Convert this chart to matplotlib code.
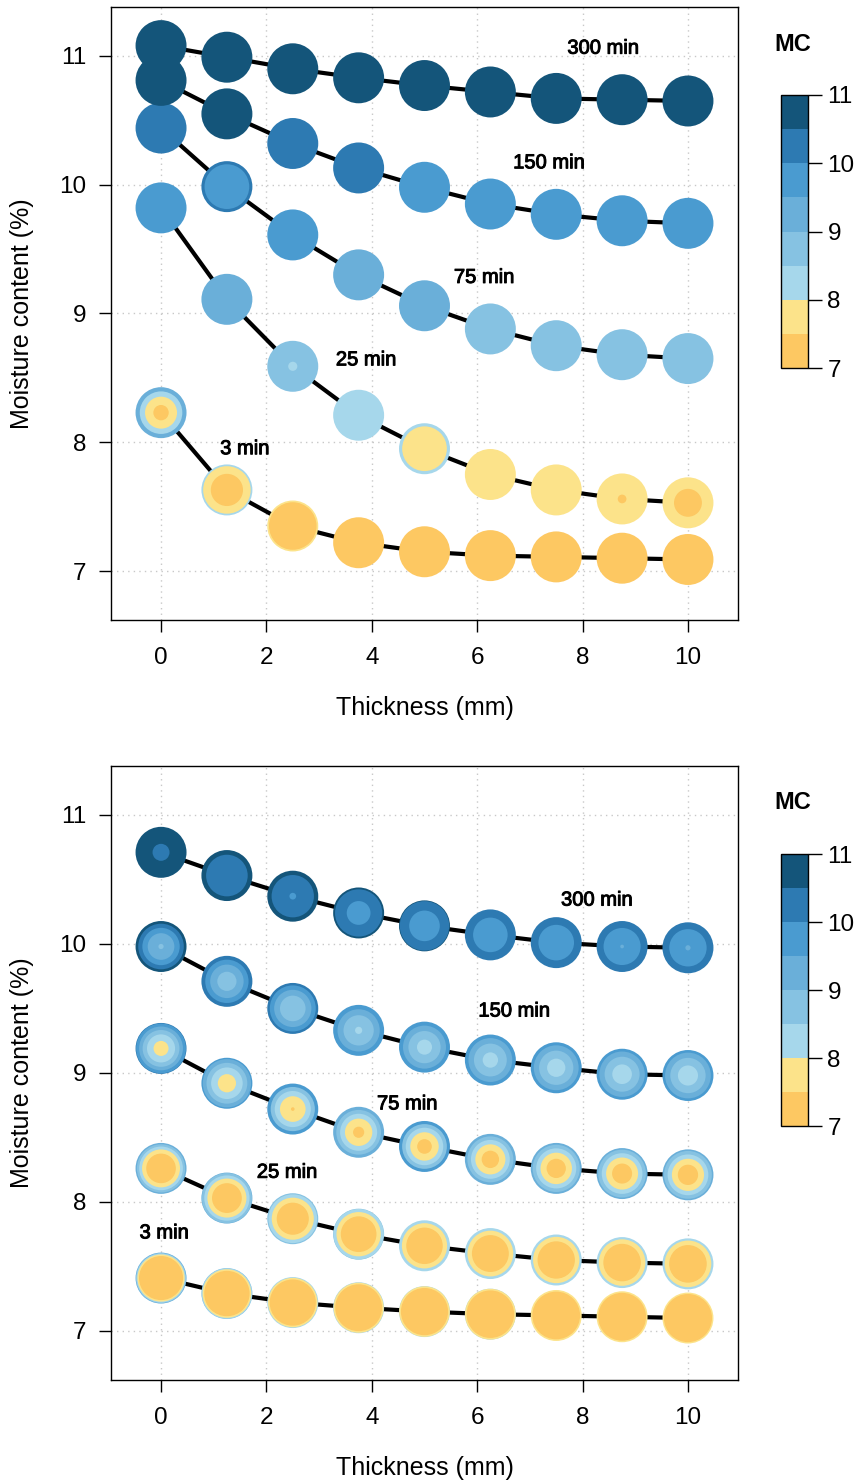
import numpy as np
import matplotlib
matplotlib.use("Agg")
import matplotlib.pyplot as plt
import matplotlib.patheffects as pe
from matplotlib.colors import ListedColormap, BoundaryNorm
from matplotlib.colorbar import ColorbarBase

plt.rcParams["font.family"] = ["Liberation Sans", "DejaVu Sans"]

# ---- data -------------------------------------------------------------
thickness = [0, 1.25, 2.5, 3.75, 5, 6.25, 7.5, 8.75, 10]
times = [3, 25, 75, 150, 300]
levels = [7, 7.5, 8, 8.5, 9, 9.5, 10, 10.5, 11]
level_colors = ["#FDC862", "#FCE38A", "#A6D7EB", "#86C2E2",
                "#6AAFD9", "#4A9BD0", "#2D7AB2", "#14557A"]

# upper panel: mean MC, surface MC, core MC per thickness (rows = times)
top_mc = [
    [8.23, 7.63, 7.35, 7.22, 7.15, 7.12, 7.11, 7.10, 7.09],
    [9.82, 9.11, 8.59, 8.21, 7.95, 7.75, 7.63, 7.56, 7.53],
    [10.44, 9.985, 9.61, 9.30, 9.06, 8.88, 8.75, 8.68, 8.65],
    [10.81, 10.55, 10.32, 10.13, 9.98, 9.85, 9.77, 9.72, 9.70],
    [11.08, 10.99, 10.90, 10.83, 10.77, 10.72, 10.67, 10.66, 10.65],
]
top_surface = [
    [9.0, 8.14, 7.56, 7.22, 7.15, 7.12, 7.11, 7.10, 7.09],
    [9.82, 9.11, 8.65, 8.21, 8.03, 7.75, 7.63, 7.60, 7.57],
    [10.44, 10.03, 9.61, 9.30, 9.06, 8.88, 8.75, 8.68, 8.65],
    [10.81, 10.55, 10.32, 10.13, 9.98, 9.85, 9.77, 9.72, 9.70],
    [11.08, 10.99, 10.90, 10.83, 10.77, 10.72, 10.67, 10.66, 10.65],
]
top_core = [
    [7.35, 7.075, 7.10, 7.22, 7.15, 7.12, 7.11, 7.10, 7.09],
    [9.82, 9.11, 8.495, 8.21, 7.90, 7.75, 7.63, 7.497, 7.47],
    [10.44, 9.90, 9.61, 9.30, 9.06, 8.88, 8.75, 8.68, 8.65],
    [10.81, 10.55, 10.32, 10.13, 9.98, 9.85, 9.77, 9.72, 9.70],
    [11.08, 10.99, 10.90, 10.83, 10.77, 10.72, 10.67, 10.66, 10.65],
]
top_shape = [2, 2, 2, 2, 2]

# lower panel
bot_mc = [
    [7.41, 7.29, 7.22, 7.18, 7.15, 7.13, 7.12, 7.11, 7.10],
    [8.26, 8.03, 7.87, 7.75, 7.66, 7.60, 7.55, 7.53, 7.52],
    [9.19, 8.92, 8.72, 8.54, 8.43, 8.33, 8.26, 8.22, 8.21],
    [9.98, 9.71, 9.50, 9.33, 9.20, 9.10, 9.04, 8.99, 8.98],
    [10.71, 10.53, 10.37, 10.24, 10.14, 10.07, 10.01, 9.98, 9.97],
]
bot_surface = [
    [9.4, 8.7, 8.4, 8.2, 8.1, 8.03, 7.98, 7.95, 7.9],
    [9.35, 9.1, 8.7, 8.55, 8.45, 8.4, 8.35, 8.33, 8.32],
    [10.1, 9.7, 9.5, 9.48, 9.5, 9.4, 9.3, 9.25, 9.25],
    [10.88, 10.48, 10.33, 9.97, 9.96, 9.9, 9.85, 9.82, 9.8],
    [10.9, 10.6, 10.73, 10.61, 10.55, 10.45, 10.42, 10.45, 10.44],
]
bot_core = [
    [7.1, 7.1, 7.1, 7.1, 7.1, 7.1, 7.1, 7.1, 7.1],
    [7.05, 7.1, 7.1, 6.95, 6.95, 6.95, 6.95, 6.95, 6.95],
    [7.8, 7.75, 7.49, 7.4, 7.32, 7.25, 7.2, 7.18, 7.17],
    [8.98, 8.755, 8.55, 8.47, 8.36, 8.36, 8.3, 8.27, 8.26],
    [10.45, 10.3, 9.987, 9.83, 9.69, 9.617, 9.6, 9.495, 9.49],
]
bot_shape = [12, 3, 2, 2, 2]

top_label_pos = [(1.59, 7.95), (3.89, 8.64), (6.13, 9.28), (7.36, 10.17), (8.39, 11.06)]
bot_label_pos = [(0.06, 7.76), (2.39, 8.23), (4.67, 8.76), (6.70, 9.48), (8.27, 10.34)]


def level_color(v):
    i = int(np.floor((v - levels[0]) / 0.5))
    return level_colors[min(max(i, 0), len(level_colors) - 1)]


def rings(surface, core, shape):
    # concentric circles from surface (outer) to core (inner)
    out = [(1.0, level_color(surface))]
    if surface - core <= 0:
        return out
    for b in reversed(levels[1:-1]):
        if core < b < surface:
            r = ((b - core) / (surface - core)) ** (1.0 / shape)
            out.append((r, level_color(b - 1e-6)))
    return out


def panel(ax, mc, surface, core, shape, label_pos):
    diam = 36.7  # points
    xs, ys, ss, cs = [], [], [], []
    for k in range(len(times)):
        ax.plot(thickness, mc[k], color="black", lw=3, zorder=2,
                solid_capstyle="butt")
    for k in range(len(times)):
        for j, x in enumerate(thickness):
            for r, col in rings(surface[k][j], core[k][j], shape[k]):
                xs.append(x)
                ys.append(mc[k][j])
                ss.append((diam * r) ** 2)
                cs.append(col)
    ax.scatter(xs, ys, s=ss, c=cs, linewidths=0, zorder=3)
    for k, t in enumerate(times):
        ax.text(label_pos[k][0], label_pos[k][1], f"{t} min", fontsize=14.5,
                ha="center", va="center", zorder=5,
                path_effects=[pe.withStroke(linewidth=0.7, foreground="black")])

    ax.set_xlim(-0.95, 10.95)
    ax.set_ylim(6.62, 11.38)
    ax.set_xticks([0, 2, 4, 6, 8, 10])
    ax.set_yticks([7, 8, 9, 10, 11])
    ax.grid(True, color="#C8C8C8", linestyle=(0, (1, 3)), lw=1)
    ax.set_axisbelow(True)
    ax.tick_params(direction="out", length=8.5, width=1, labelsize=17.5, pad=9)
    ax.tick_params(axis="x", pad=11)
    for sp in ax.spines.values():
        sp.set_linewidth(1)
    ax.set_xlabel("Thickness (mm)", fontsize=18, va="center")
    ax.xaxis.set_label_coords(0.5, -0.143)
    ax.set_ylabel("Moisture content (%)", fontsize=18, va="center")
    ax.yaxis.set_label_coords(-0.142, 0.5)


def colorbar(fig, rect, text_y):
    cax = fig.add_axes(rect)
    cmap = ListedColormap(level_colors)
    norm = BoundaryNorm(levels, cmap.N)
    cb = ColorbarBase(cax, cmap=cmap, norm=norm, ticks=[7, 8, 9, 10, 11])
    cb.outline.set_linewidth(1)
    cax.minorticks_off()
    cax.tick_params(length=10, width=1, labelsize=17.5, pad=4)
    fig.text(0.9168, text_y, "MC", fontsize=17, fontweight="bold",
             ha="center", va="center")


fig = plt.figure(figsize=(8.65, 14.84), dpi=100)
ax1 = fig.add_axes([0.1283, 0.5822, 0.7249, 0.4131])
ax2 = fig.add_axes([0.1283, 0.0701, 0.7249, 0.4138])
panel(ax1, top_mc, top_surface, top_core, top_shape, top_label_pos)
panel(ax2, bot_mc, bot_surface, bot_core, bot_shape, bot_label_pos)
colorbar(fig, [0.9029, 0.752, 0.0312, 0.184], 0.9697)
colorbar(fig, [0.9029, 0.2412, 0.0312, 0.1833], 0.4589)

fig.savefig("out.png", dpi=100)
